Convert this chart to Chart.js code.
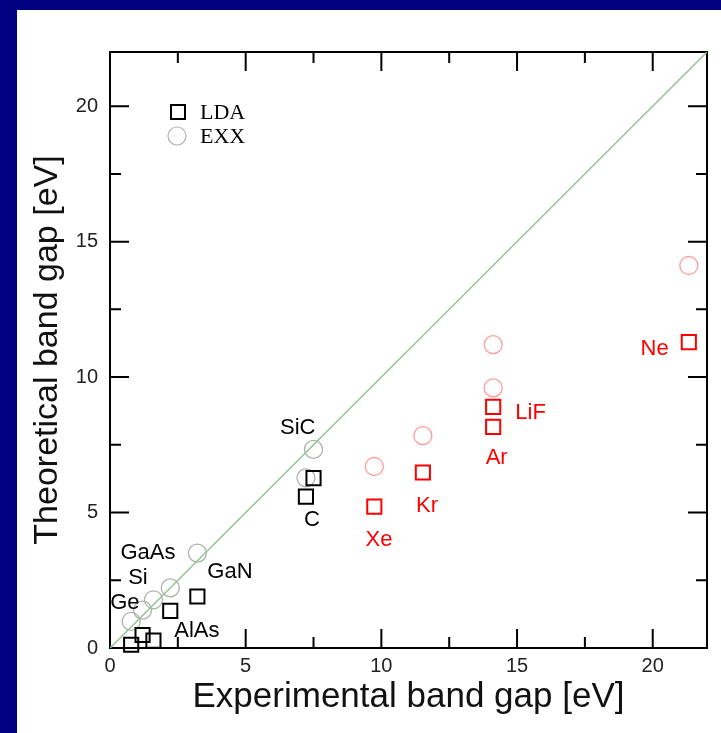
<!DOCTYPE html>
<html>
<head>
<meta charset="utf-8">
<script src="https://cdn.jsdelivr.net/npm/chart.js@4"></script>
<style>
html, body { margin: 0; padding: 0; background: #000080; }
#wrap { position: absolute; left: 17px; top: 10px; width: 704px; height: 723px; background: #fff; }
</style>
</head>
<body>
<div id="wrap"><canvas id="chart" width="704" height="723"></canvas></div>
<script>
// Band gaps (eV)
const materials = ['Ge', 'Si', 'GaAs', 'AlAs', 'GaN', 'C', 'SiC', 'Xe', 'Kr', 'Ar', 'LiF', 'Ne'];
const expGap = [0.78, 1.2, 1.6, 2.22, 3.22, 7.22, 7.5, 9.74, 11.53, 14.12, 14.12, 21.33];
const ldaGap = [0.12, 0.48, 0.27, 1.37, 1.9, 5.59, 6.27, 5.22, 6.48, 8.16, 8.9, 11.29];
const exxGap = [0.98, 1.4, 1.78, 2.22, 3.5, 6.28, 7.33, 6.7, 7.84, 9.6, 11.2, 14.12];
const redGroup = ['Xe', 'Kr', 'Ar', 'LiF', 'Ne'];

// where the material names sit (data units)
const labelText = ['GaAs', 'Si', 'Ge', 'GaN', 'AlAs', 'SiC', 'C', 'Xe', 'Kr', 'Ar', 'LiF', 'Ne'];
const labelX = [1.4, 1.03, 0.55, 4.42, 3.2, 6.92, 7.44, 9.91, 11.68, 14.25, 15.5, 20.07];
const labelY = [3.51, 2.59, 1.66, 2.81, 0.63, 8.13, 4.73, 3.99, 5.25, 7.02, 8.69, 11.05];

const axisMin = 0, axisMax = 22;
const majorStep = 5, minorStep = 2.5;

const pick = (vals, red) => materials
    .map((m, i) => ({ m, x: expGap[i], y: vals[i] }))
    .filter(p => redGroup.includes(p.m) === red)
    .map(p => ({ x: p.x, y: p.y }));

// cadre + petites graduations vers l'intérieur
const framePlugin = {
    id: 'frame',
    beforeDatasetsDraw(chart) {
        const { ctx, chartArea: a, scales } = chart;
        ctx.save();
        ctx.strokeStyle = '#000';
        ctx.lineWidth = 2;
        ctx.strokeRect(a.left, a.top, a.right - a.left, a.bottom - a.top);
        ctx.beginPath();
        for (let v = axisMin; v <= axisMax; v += minorStep) {
            const len = (v % majorStep === 0) ? 19 : 11;
            const px = scales.x.getPixelForValue(v);
            const py = scales.y.getPixelForValue(v);
            ctx.moveTo(px, a.bottom); ctx.lineTo(px, a.bottom - len);
            ctx.moveTo(px, a.top); ctx.lineTo(px, a.top + len);
            ctx.moveTo(a.left, py); ctx.lineTo(a.left + len, py);
            ctx.moveTo(a.right, py); ctx.lineTo(a.right - len, py);
        }
        ctx.stroke();
        ctx.restore();
    }
};

const labelPlugin = {
    id: 'labels',
    afterDatasetsDraw(chart) {
        const { ctx, chartArea: a, scales } = chart;
        ctx.save();
        ctx.font = '22px "Liberation Sans", Arial, sans-serif';
        ctx.textAlign = 'center';
        ctx.textBaseline = 'middle';
        labelText.forEach((t, i) => {
            ctx.fillStyle = redGroup.includes(t) ? '#ff0000' : '#000';
            ctx.fillText(t, scales.x.getPixelForValue(labelX[i]), scales.y.getPixelForValue(labelY[i]));
        });

        // légende
        const lx = a.left + 68, ly = a.top + 60;
        ctx.strokeStyle = '#000';
        ctx.lineWidth = 2;
        ctx.strokeRect(lx - 7, ly - 7, 14, 14);
        ctx.strokeStyle = '#a9b5a9';
        ctx.lineWidth = 1.2;
        ctx.beginPath();
        ctx.arc(lx - 1, ly + 24, 9, 0, Math.PI * 2);
        ctx.stroke();
        ctx.fillStyle = '#000';
        ctx.textAlign = 'left';
        ctx.font = '22px "Liberation Serif", "Times New Roman", serif';
        ctx.fillText('LDA', lx + 22, ly + 1);
        ctx.fillText('EXX', lx + 22, ly + 25);
        ctx.restore();
    }
};

const tickFont = { family: '"Liberation Sans", Arial, sans-serif', size: 20 };
const font = (size) => ({ family: '"Liberation Sans", Arial, sans-serif', size });

new Chart(document.getElementById('chart'), {
    type: 'scatter',
    data: {
        datasets: [
            {
                label: 'LDA',
                data: pick(ldaGap, false),
                pointStyle: 'rect', pointRadius: 10, pointHoverRadius: 10,
                borderColor: '#000', borderWidth: 2, backgroundColor: 'transparent',
                order: 1, clip: false
            },
            {
                label: 'LDA (rare gas)',
                data: pick(ldaGap, true),
                pointStyle: 'rect', pointRadius: 10, pointHoverRadius: 10,
                borderColor: '#ff0000', borderWidth: 2, backgroundColor: 'transparent',
                order: 1, clip: false
            },
            {
                label: 'EXX',
                data: pick(exxGap, false),
                pointStyle: 'circle', pointRadius: 9, pointHoverRadius: 9,
                borderColor: '#a9b5a9', borderWidth: 1.3, backgroundColor: 'transparent',
                order: 2, clip: false
            },
            {
                label: 'EXX (rare gas)',
                data: pick(exxGap, true),
                pointStyle: 'circle', pointRadius: 9, pointHoverRadius: 9,
                borderColor: '#ff9c9c', borderWidth: 1.3, backgroundColor: 'transparent',
                order: 2, clip: false
            },
            {
                type: 'line',
                label: 'y = x',
                data: [{ x: axisMin, y: axisMin }, { x: axisMax, y: axisMax }],
                borderColor: '#93c493', borderWidth: 1.5, pointRadius: 0,
                order: 3
            }
        ]
    },
    options: {
        responsive: false,
        animation: false,
        layout: { padding: { left: 0, top: 42, right: 14, bottom: 0 } },
        plugins: { legend: { display: false }, tooltip: { enabled: false } },
        scales: {
            x: {
                type: 'linear', min: axisMin, max: axisMax,
                grid: { display: false, drawTicks: false }, border: { display: false },
                ticks: { stepSize: majorStep, includeBounds: false, font: tickFont, color: '#222', padding: 6, maxRotation: 0 },
                title: { display: true, text: 'Experimental band gap [eV]', font: font(35), color: '#111', padding: { bottom: 15 } },
                afterFit(s) { s.height = 85; }
            },
            y: {
                type: 'linear', min: axisMin, max: axisMax,
                grid: { display: false, drawTicks: false }, border: { display: false },
                ticks: { stepSize: majorStep, includeBounds: false, font: tickFont, color: '#222', padding: 12 },
                title: { display: true, text: 'Theoretical band gap [eV]', font: font(34), color: '#111', padding: { top: 10 } },
                afterFit(s) { s.width = 93; }
            }
        }
    },
    plugins: [framePlugin, labelPlugin]
});
</script>
</body>
</html>
